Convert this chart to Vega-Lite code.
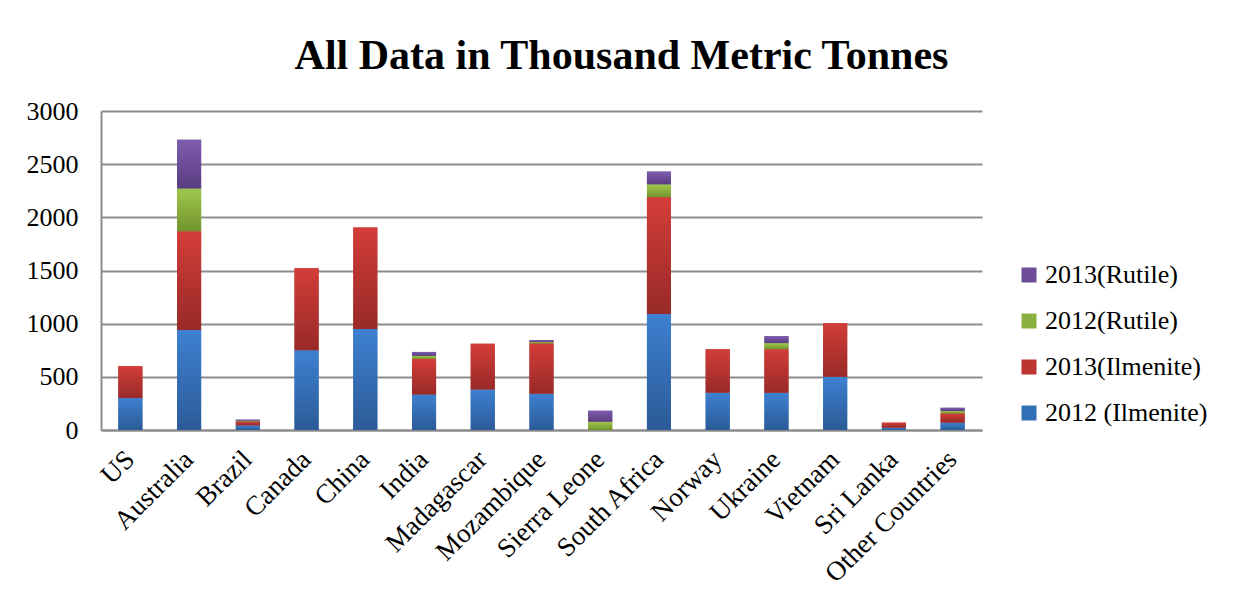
{
  "$schema": "https://vega.github.io/schema/vega-lite/v6.json",
  "width": 881,
  "height": 319,
  "autosize": {"type": "none"},
  "padding": {"left": 101, "top": 111, "right": 251, "bottom": 172},
  "background": "white",
  "title": {
    "text": "All Data in Thousand Metric Tonnes",
    "font": "Liberation Serif",
    "fontSize": 42,
    "fontWeight": "bold",
    "color": "black",
    "anchor": "middle",
    "dx": 80,
    "offset": -13,
    "baseline": "alphabetic"
  },
  "data": {
    "values": [
      {"country": "US", "series": "2012 (Ilmenite)", "mineral": "Ilmenite", "year": 2012, "value": 300},
      {"country": "US", "series": "2013(Ilmenite)", "mineral": "Ilmenite", "year": 2013, "value": 300},
      {"country": "US", "series": "2012(Rutile)", "mineral": "Rutile", "year": 2012, "value": 0},
      {"country": "US", "series": "2013(Rutile)", "mineral": "Rutile", "year": 2013, "value": 0},
      {"country": "Australia", "series": "2012 (Ilmenite)", "mineral": "Ilmenite", "year": 2012, "value": 940},
      {"country": "Australia", "series": "2013(Ilmenite)", "mineral": "Ilmenite", "year": 2013, "value": 930},
      {"country": "Australia", "series": "2012(Rutile)", "mineral": "Rutile", "year": 2012, "value": 400},
      {"country": "Australia", "series": "2013(Rutile)", "mineral": "Rutile", "year": 2013, "value": 460},
      {"country": "Brazil", "series": "2012 (Ilmenite)", "mineral": "Ilmenite", "year": 2012, "value": 43},
      {"country": "Brazil", "series": "2013(Ilmenite)", "mineral": "Ilmenite", "year": 2013, "value": 37},
      {"country": "Brazil", "series": "2012(Rutile)", "mineral": "Rutile", "year": 2012, "value": 8},
      {"country": "Brazil", "series": "2013(Rutile)", "mineral": "Rutile", "year": 2013, "value": 9},
      {"country": "Canada", "series": "2012 (Ilmenite)", "mineral": "Ilmenite", "year": 2012, "value": 750},
      {"country": "Canada", "series": "2013(Ilmenite)", "mineral": "Ilmenite", "year": 2013, "value": 770},
      {"country": "Canada", "series": "2012(Rutile)", "mineral": "Rutile", "year": 2012, "value": 0},
      {"country": "Canada", "series": "2013(Rutile)", "mineral": "Rutile", "year": 2013, "value": 0},
      {"country": "China", "series": "2012 (Ilmenite)", "mineral": "Ilmenite", "year": 2012, "value": 950},
      {"country": "China", "series": "2013(Ilmenite)", "mineral": "Ilmenite", "year": 2013, "value": 955},
      {"country": "China", "series": "2012(Rutile)", "mineral": "Rutile", "year": 2012, "value": 0},
      {"country": "China", "series": "2013(Rutile)", "mineral": "Rutile", "year": 2013, "value": 0},
      {"country": "India", "series": "2012 (Ilmenite)", "mineral": "Ilmenite", "year": 2012, "value": 335},
      {"country": "India", "series": "2013(Ilmenite)", "mineral": "Ilmenite", "year": 2013, "value": 335},
      {"country": "India", "series": "2012(Rutile)", "mineral": "Rutile", "year": 2012, "value": 28},
      {"country": "India", "series": "2013(Rutile)", "mineral": "Rutile", "year": 2013, "value": 36},
      {"country": "Madagascar", "series": "2012 (Ilmenite)", "mineral": "Ilmenite", "year": 2012, "value": 380},
      {"country": "Madagascar", "series": "2013(Ilmenite)", "mineral": "Ilmenite", "year": 2013, "value": 430},
      {"country": "Madagascar", "series": "2012(Rutile)", "mineral": "Rutile", "year": 2012, "value": 0},
      {"country": "Madagascar", "series": "2013(Rutile)", "mineral": "Rutile", "year": 2013, "value": 0},
      {"country": "Mozambique", "series": "2012 (Ilmenite)", "mineral": "Ilmenite", "year": 2012, "value": 340},
      {"country": "Mozambique", "series": "2013(Ilmenite)", "mineral": "Ilmenite", "year": 2013, "value": 475},
      {"country": "Mozambique", "series": "2012(Rutile)", "mineral": "Rutile", "year": 2012, "value": 12},
      {"country": "Mozambique", "series": "2013(Rutile)", "mineral": "Rutile", "year": 2013, "value": 18},
      {"country": "Sierra Leone", "series": "2012 (Ilmenite)", "mineral": "Ilmenite", "year": 2012, "value": 0},
      {"country": "Sierra Leone", "series": "2013(Ilmenite)", "mineral": "Ilmenite", "year": 2013, "value": 0},
      {"country": "Sierra Leone", "series": "2012(Rutile)", "mineral": "Rutile", "year": 2012, "value": 78},
      {"country": "Sierra Leone", "series": "2013(Rutile)", "mineral": "Rutile", "year": 2013, "value": 103},
      {"country": "South Africa", "series": "2012 (Ilmenite)", "mineral": "Ilmenite", "year": 2012, "value": 1090},
      {"country": "South Africa", "series": "2013(Ilmenite)", "mineral": "Ilmenite", "year": 2013, "value": 1100},
      {"country": "South Africa", "series": "2012(Rutile)", "mineral": "Rutile", "year": 2012, "value": 120},
      {"country": "South Africa", "series": "2013(Rutile)", "mineral": "Rutile", "year": 2013, "value": 120},
      {"country": "Norway", "series": "2012 (Ilmenite)", "mineral": "Ilmenite", "year": 2012, "value": 350},
      {"country": "Norway", "series": "2013(Ilmenite)", "mineral": "Ilmenite", "year": 2013, "value": 410},
      {"country": "Norway", "series": "2012(Rutile)", "mineral": "Rutile", "year": 2012, "value": 0},
      {"country": "Norway", "series": "2013(Rutile)", "mineral": "Rutile", "year": 2013, "value": 0},
      {"country": "Ukraine", "series": "2012 (Ilmenite)", "mineral": "Ilmenite", "year": 2012, "value": 350},
      {"country": "Ukraine", "series": "2013(Ilmenite)", "mineral": "Ilmenite", "year": 2013, "value": 410},
      {"country": "Ukraine", "series": "2012(Rutile)", "mineral": "Rutile", "year": 2012, "value": 57},
      {"country": "Ukraine", "series": "2013(Rutile)", "mineral": "Rutile", "year": 2013, "value": 65},
      {"country": "Vietnam", "series": "2012 (Ilmenite)", "mineral": "Ilmenite", "year": 2012, "value": 500},
      {"country": "Vietnam", "series": "2013(Ilmenite)", "mineral": "Ilmenite", "year": 2013, "value": 505},
      {"country": "Vietnam", "series": "2012(Rutile)", "mineral": "Rutile", "year": 2012, "value": 0},
      {"country": "Vietnam", "series": "2013(Rutile)", "mineral": "Rutile", "year": 2013, "value": 0},
      {"country": "Sri Lanka", "series": "2012 (Ilmenite)", "mineral": "Ilmenite", "year": 2012, "value": 22},
      {"country": "Sri Lanka", "series": "2013(Ilmenite)", "mineral": "Ilmenite", "year": 2013, "value": 47},
      {"country": "Sri Lanka", "series": "2012(Rutile)", "mineral": "Rutile", "year": 2012, "value": 0},
      {"country": "Sri Lanka", "series": "2013(Rutile)", "mineral": "Rutile", "year": 2013, "value": 0},
      {"country": "Other Countries", "series": "2012 (Ilmenite)", "mineral": "Ilmenite", "year": 2012, "value": 69},
      {"country": "Other Countries", "series": "2013(Ilmenite)", "mineral": "Ilmenite", "year": 2013, "value": 87},
      {"country": "Other Countries", "series": "2012(Rutile)", "mineral": "Rutile", "year": 2012, "value": 22},
      {"country": "Other Countries", "series": "2013(Rutile)", "mineral": "Rutile", "year": 2013, "value": 31}
    ]
  },
  "transform": [
    {
      "stack": "value",
      "groupby": ["country"],
      "sort": [
        {"field": "mineral", "order": "ascending"},
        {"field": "year", "order": "ascending"}
      ],
      "as": ["v0", "v1"]
    }
  ],
  "encoding": {
    "x": {
      "field": "country",
      "type": "nominal",
      "sort": null,
      "scale": {"paddingInner": 0.59, "paddingOuter": 0.295},
      "axis": {
        "title": null,
        "labelAngle": -45,
        "labelAlign": "right",
        "labelBaseline": "middle",
        "labelFont": "Liberation Serif",
        "labelFontSize": 27,
        "labelColor": "black",
        "labelPadding": 25,
        "ticks": false,
        "domainColor": "#8c8c8c",
        "domainWidth": 2,
        "labelOverlap": false
      }
    },
    "y": {
      "field": "v1",
      "type": "quantitative",
      "scale": {"domain": [0, 3000], "nice": false},
      "axis": {
        "title": null,
        "values": [0, 500, 1000, 1500, 2000, 2500, 3000],
        "format": "d",
        "labelFont": "Liberation Serif",
        "labelFontSize": 26,
        "labelColor": "black",
        "labelPadding": 23,
        "ticks": false,
        "domainColor": "#8c8c8c",
        "domainWidth": 2,
        "gridColor": "#8c8c8c",
        "gridWidth": 2
      }
    },
    "y2": {"field": "v0"}
  },
  "layer": [
    {
      "mark": {"type": "bar", "strokeWidth": 0},
      "encoding": {
        "color": {
          "field": "series",
          "type": "nominal",
          "scale": {
            "domain": ["2012 (Ilmenite)", "2013(Ilmenite)", "2012(Rutile)", "2013(Rutile)"],
            "range": ["#3470b8", "#bd3431", "#8ab13f", "#6c4d96"]
          },
          "legend": {
            "title": null,
            "orient": "none",
            "legendX": 915,
            "legendY": 151,
            "values": ["2013(Rutile)", "2012(Rutile)", "2013(Ilmenite)", "2012 (Ilmenite)"],
            "symbolType": "square",
            "symbolSize": 225,
            "symbolStrokeWidth": 0,
            "labelFont": "Liberation Serif",
            "labelFontSize": 26,
            "labelColor": "black",
            "labelOffset": 3,
            "rowPadding": 20,
            "padding": 0,
            "labelLimit": 300
          }
        }
      }
    },
    {
      "mark": {"type": "bar", "strokeWidth": 0},
      "encoding": {
        "fill": {
          "condition": [
            {"test": "datum.series === '2012 (Ilmenite)'", "value": {"gradient": "linear", "x1": 0, "y1": 0, "x2": 0, "y2": 1, "stops": [{"offset": 0, "color": "#3e80d1"}, {"offset": 1, "color": "#2b5b97"}]}},
            {"test": "datum.series === '2013(Ilmenite)'", "value": {"gradient": "linear", "x1": 0, "y1": 0, "x2": 0, "y2": 1, "stops": [{"offset": 0, "color": "#d33d39"}, {"offset": 1, "color": "#982a28"}]}},
            {"test": "datum.series === '2012(Rutile)'", "value": {"gradient": "linear", "x1": 0, "y1": 0, "x2": 0, "y2": 1, "stops": [{"offset": 0, "color": "#a0c84c"}, {"offset": 1, "color": "#72942e"}]}}
          ],
          "value": {"gradient": "linear", "x1": 0, "y1": 0, "x2": 0, "y2": 1, "stops": [{"offset": 0, "color": "#7f5caf"}, {"offset": 1, "color": "#5a3e7f"}]}
        }
      }
    }
  ],
  "config": {
    "view": {"stroke": null}
  }
}
